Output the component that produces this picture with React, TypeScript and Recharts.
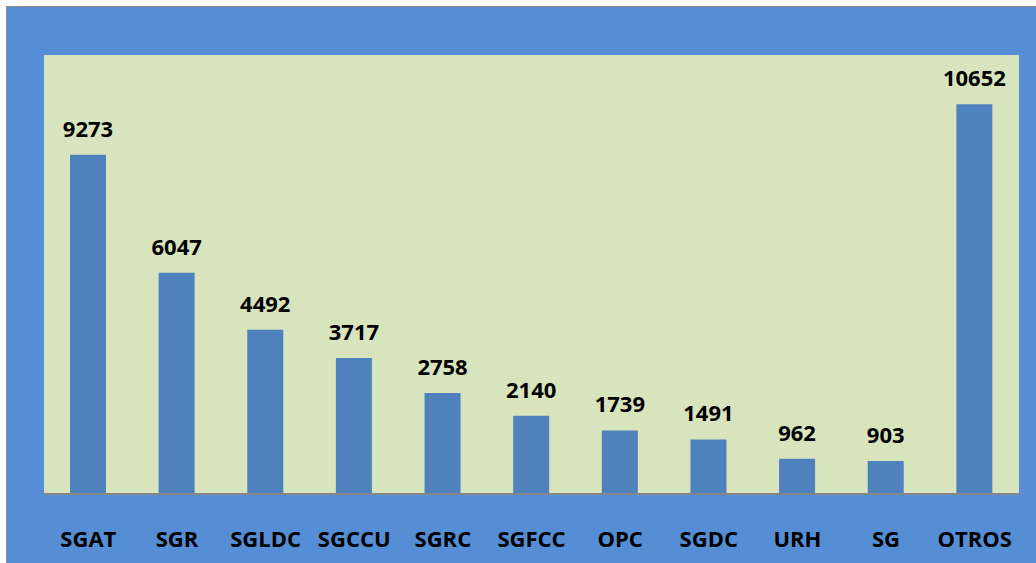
import { BarChart, Bar, XAxis, YAxis, CartesianGrid, LabelList } from 'recharts';

const categories = ['SGAT', 'SGR', 'SGLDC', 'SGCCU', 'SGRC', 'SGFCC', 'OPC', 'SGDC', 'URH', 'SG', 'OTROS'];
const values = [9273, 6047, 4492, 3717, 2758, 2140, 1739, 1491, 962, 903, 10652];

const data = categories.map((name, i) => ({ name, value: values[i] }));

const FONT = '"Open Sans", "Noto Sans", sans-serif';

const ValueLabel = (props: any) => {
  const { x, y, width, value } = props;
  return (
    <text
      x={x + width / 2}
      y={y - 18}
      textAnchor="middle"
      fontFamily={FONT}
      fontWeight="bold"
      fontSize={22}
      fill="#000"
    >
      {value}
    </text>
  );
};

const CategoryTick = (props: any) => {
  const { x, y, payload } = props;
  return (
    <text
      x={x}
      y={y}
      dy={53}
      textAnchor="middle"
      fontFamily={FONT}
      fontWeight="bold"
      fontSize={22}
      fill="#000"
    >
      {payload.value}
    </text>
  );
};

const App = () => {
  return (
    <div style={{ position: 'absolute', left: 0, top: 0, width: 1036, height: 563, background: '#fff' }}>
      <div
        style={{
          position: 'absolute',
          left: 6,
          top: 6,
          width: 1030,
          height: 557,
          boxSizing: 'border-box',
          background: '#558ED5',
          borderLeft: '1px solid #888',
          borderTop: '1px solid #888',
        }}
      >
        <BarChart
          width={1029}
          height={556}
          data={data}
          margin={{ top: 48, right: 17, left: 37, bottom: 0 }}
        >
          <CartesianGrid fill="#D7E4BD" horizontal={false} vertical={false} />
          <XAxis
            dataKey="name"
            height={69}
            tickLine={false}
            tickSize={0}
            tickMargin={0}
            axisLine={{ stroke: '#868686', strokeWidth: 2 }}
            tick={<CategoryTick />}
            interval={0}
          />
          <YAxis hide domain={[0, 12000]} />
          <Bar dataKey="value" fill="#4F81BD" barSize={36} isAnimationActive={false}>
            <LabelList dataKey="value" content={<ValueLabel />} />
          </Bar>
        </BarChart>
      </div>
    </div>
  );
};

export default App;
